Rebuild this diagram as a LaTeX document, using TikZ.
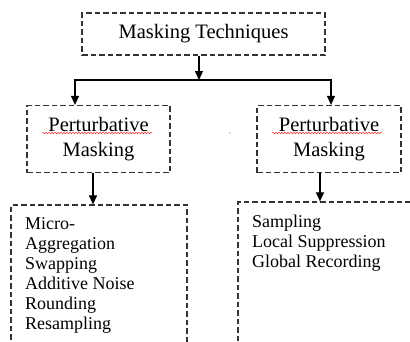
\documentclass[tikz,border=0pt]{standalone}
\usepackage{fontspec}
\setmainfont{Liberation Serif}
\usetikzlibrary{arrows.meta,decorations.pathmorphing}
\begin{document}
\begin{tikzpicture}[x=1pt,y=-1pt,
  box/.style={draw=black!80, dash pattern=on 5.5pt off 3pt, line width=1.2pt, inner sep=0pt},
  arr/.style={line width=1.1pt, -{Triangle[length=9pt,width=8pt]}},
  wavy/.style={draw=red!80, line width=0.5pt, decorate, decoration={snake, amplitude=0.8pt, segment length=3pt}},
  bigtext/.style={font=\fontsize{20.5}{25}\selectfont, align=center},
  listtext/.style={font=\fontsize{18}{20}\selectfont, align=left, inner sep=0pt, anchor=north west}]
\useasboundingbox (0,0) rectangle (410,341);
\clip (0,0) rectangle (410,341);
% boxes
\node[box, bigtext, minimum width=243pt, minimum height=42pt] (top) at (203.5,34) {Masking Techniques};
\node[box, bigtext, minimum width=143pt, minimum height=67pt] (lm) at (98.5,139) {Perturbative\\Masking};
\node[box, bigtext, minimum width=144pt, minimum height=67pt] (rm) at (329,139) {Perturbative\\Masking};
\node[box, minimum width=176pt, minimum height=165pt] (lb) at (99,287.5) {};
\node[box, minimum width=202pt, minimum height=168pt] (rb) at (339,286) {};
% list texts
\node[listtext] (ll) at (25,217) {Micro-\\Aggregation\\Swapping\\Additive Noise\\Rounding\\Resampling};
\node[listtext] (rl) at (252,215) {Sampling\\Local Suppression\\Global Recording};
% connectors
\coordinate (j) at (199,80);
\coordinate (jl) at (74,80);
\coordinate (jr) at (332,80);
\coordinate (xl) at (75,0);
\coordinate (xr) at (331,0);
\coordinate (bl) at (93,0);
\coordinate (br) at (320,0);
\draw[arr] (top.south -| j) -- (j);
\draw[line width=1.1pt] (jl) -- (jr);
\draw[arr] (jl -| xl) -- (lm.north -| xl);
\draw[arr] (jr -| xr) -- (rm.north -| xr);
\draw[arr] (lm.south -| bl) -- (lb.north -| bl);
\draw[arr] (rm.south -| br) -- (rb.north -| br);
% spell-check underlines and stray dot
\draw[wavy] (42,133) -- (152,133);
\draw[wavy] (272,133) -- (382,133);
\fill[blue!70] (230,133) circle (0.7pt);
\end{tikzpicture}
\end{document}
